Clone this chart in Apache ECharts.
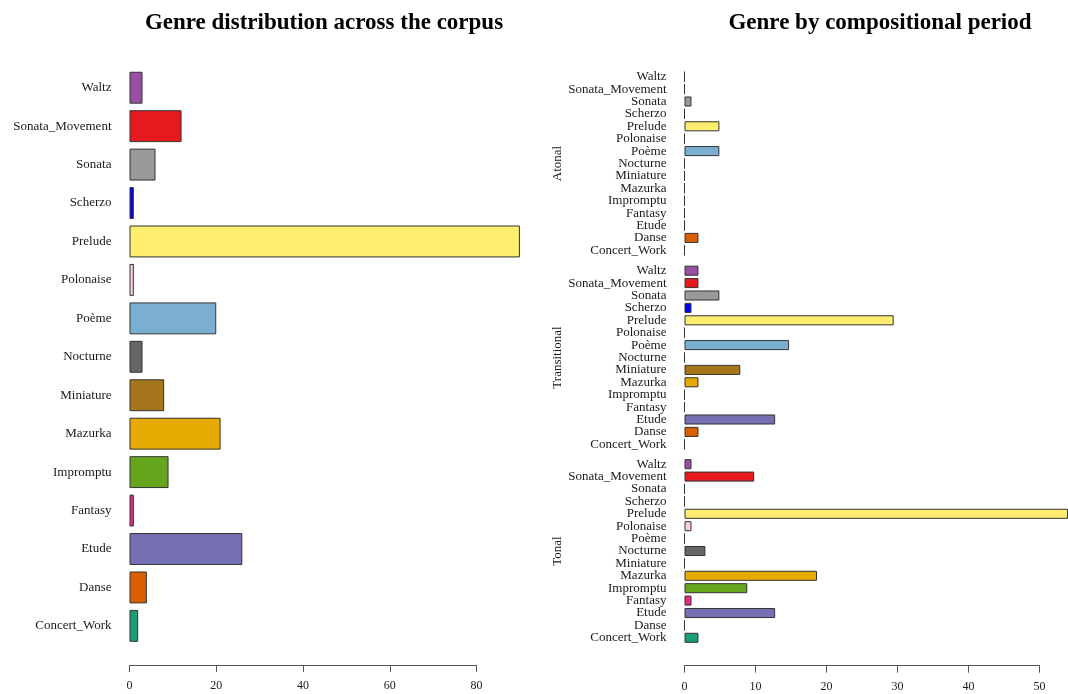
<!DOCTYPE html>
<html>
<head>
<meta charset="utf-8">
<script src="https://cdn.jsdelivr.net/npm/echarts@6/dist/echarts.min.js"></script>
<style>
html,body{margin:0;padding:0;background:#fff;}
#chart{width:1068px;height:694px;}
</style>
</head>
<body>
<div id="chart"></div>
<script>
// ---- data ----
const genres = ['Concert_Work','Danse','Etude','Fantasy','Impromptu','Mazurka','Miniature','Nocturne','Poème','Polonaise','Prelude','Scherzo','Sonata','Sonata_Movement','Waltz'];
const totalCounts = [2,4,26,1,9,21,8,3,20,1,90,1,6,12,3];
const atonalCounts = [0,2,0,0,0,0,0,0,5,0,5,0,1,0,0];
const transitionalCounts = [0,2,13,0,0,2,8,0,15,0,30,1,5,2,2];
const tonalCounts = [2,0,13,1,9,19,0,3,0,1,55,0,0,10,1];
const periods = ['Atonal','Transitional','Tonal'];
const leftTicks = [0,20,40,60,80];
const rightTicks = [0,10,20,30,40,50];

// ---- style ----
const palette = ['#1B9E77','#D95F02','#7570B3','#E7298A','#66A61E','#E6AB02','#A6761D','#666666','#7BAFD2','#FCCDE5','#FFED6F','#0000F0','#999999','#E41A1C','#984EA3'];
const FONT = "'Liberation Serif', serif";
const TXT = '#1a1a1a';
const AX = '#555';

function items(vals){
  return vals.map((v,i)=>({value:v,itemStyle:{color:palette[i]}}));
}

const chart = echarts.init(document.getElementById('chart'), null, {renderer:'canvas'});

const grids = [
  {left:129.5, top:68.5, width:390.4, height:576.6},   // 0 left bars
  {left:129.5, top:664, width:347, height:1},          // 1 left axis
  {left:684.5, top:70.5, width:390.5, height:186},     // 2 atonal
  {left:684.5, top:264.5, width:390.5, height:186},    // 3 transitional
  {left:684.5, top:458, width:390.5, height:186},      // 4 tonal
  {left:684.5, top:664.7, width:355, height:1}         // 5 right axis
];

const hiddenX = (gi,max)=>({type:'value',gridIndex:gi,min:0,max:max,show:false,splitLine:{show:false}});
const visX = (gi,max,interval)=>({type:'value',gridIndex:gi,min:0,max:max,interval:interval,
  axisLine:{show:true,lineStyle:{color:AX,width:1}},
  axisTick:{show:true,length:7,lineStyle:{color:AX}},
  axisLabel:{show:true,margin:15,fontFamily:FONT,fontSize:12,color:TXT},
  splitLine:{show:false}});
const catY = (gi,name)=>({type:'category',gridIndex:gi,data:genres,
  axisLine:{show:false},axisTick:{show:false},
  axisLabel:{interval:0,margin:18,fontFamily:FONT,fontSize:13,color:TXT,lineHeight:13},
  name:name||'',nameLocation:'middle',nameRotate:90,nameGap:118,
  nameTextStyle:{fontFamily:FONT,fontSize:13,color:TXT}});
const dummyY = gi=>({type:'category',gridIndex:gi,data:['a'],show:false});

const option = {
  animation:false,
  backgroundColor:'#fff',
  title:[
    {text:'Genre distribution across the corpus',left:319,top:7,textAlign:'center',
     textStyle:{fontFamily:FONT,fontSize:23,fontWeight:'bold',color:'#000'}},
    {text:'Genre by compositional period',left:875,top:7,textAlign:'center',
     textStyle:{fontFamily:FONT,fontSize:23,fontWeight:'bold',color:'#000'}}
  ],
  grid:grids,
  xAxis:[
    hiddenX(0,90),
    visX(1,leftTicks[leftTicks.length-1],leftTicks[1]-leftTicks[0]),
    hiddenX(2,55),
    hiddenX(3,55),
    hiddenX(4,55),
    visX(5,rightTicks[rightTicks.length-1],rightTicks[1]-rightTicks[0])
  ],
  yAxis:[
    catY(0),
    dummyY(1),
    catY(2,periods[0]),
    catY(3,periods[1]),
    catY(4,periods[2]),
    dummyY(5)
  ],
  series:[
    {type:'bar',xAxisIndex:0,yAxisIndex:0,data:items(totalCounts),barCategoryGap:'17%',
     itemStyle:{borderColor:'#333',borderWidth:1}},
    {type:'bar',xAxisIndex:2,yAxisIndex:2,data:items(atonalCounts),barCategoryGap:'19%',
     itemStyle:{borderColor:'#333',borderWidth:1}},
    {type:'bar',xAxisIndex:3,yAxisIndex:3,data:items(transitionalCounts),barCategoryGap:'19%',
     itemStyle:{borderColor:'#333',borderWidth:1}},
    {type:'bar',xAxisIndex:4,yAxisIndex:4,data:items(tonalCounts),barCategoryGap:'19%',
     itemStyle:{borderColor:'#333',borderWidth:1}}
  ]
};
chart.setOption(option);
</script>
</body>
</html>
